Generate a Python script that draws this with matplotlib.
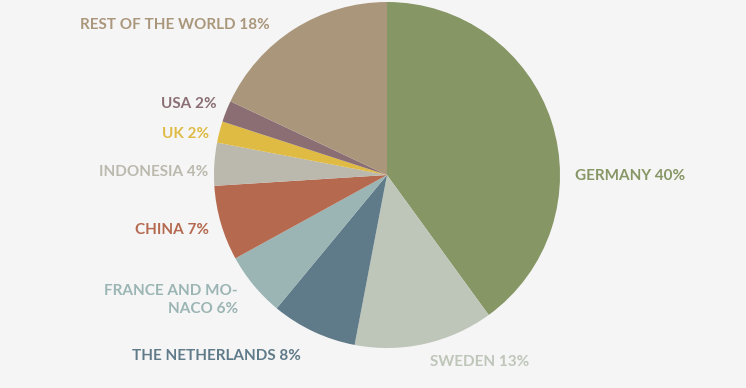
import matplotlib
matplotlib.use("Agg")
import matplotlib.pyplot as plt

# Share by country
countries = ["GERMANY", "SWEDEN", "THE NETHERLANDS", "FRANCE AND MO-\nNACO",
             "CHINA", "INDONESIA", "UK", "USA", "REST OF THE WORLD"]
shares = [40, 13, 8, 6, 7, 4, 2, 2, 18]
colors = ["#869664", "#bec5b9", "#5f7a89", "#9ab5b3", "#b5694f",
          "#bbb9ad", "#dfbb44", "#8a6e74", "#aa967b"]

# label anchors in pixels (x, y from top, alignment)
label_pos = [(575, 174, "left"), (430, 360, "left"), (301, 354, "right"),
             (238, 298, "right"), (209, 228, "right"), (208, 170, "right"),
             (209, 132, "right"), (217, 102, "right"), (270, 23, "right")]

W, H = 746, 388
fig = plt.figure(figsize=(W / 100, H / 100), dpi=100, facecolor="#f5f5f5")
ax = fig.add_axes([0, 0, 1, 1])
ax.set_facecolor("#f5f5f5")

ax.pie(shares, colors=colors, startangle=90, counterclock=False,
       center=(387, H - 175), radius=173, frame=True,
       wedgeprops=dict(linewidth=0))
ax.set_xlim(0, W)
ax.set_ylim(0, H)
ax.set_aspect("equal")
ax.axis("off")

for name, val, col, (x, y, ha) in zip(countries, shares, colors, label_pos):
    ax.text(x, H - y - 2, f"{name} {val}%", color=col, ha=ha, va="center",
            fontsize=11, fontweight="bold", family="Lato",
            multialignment="right", linespacing=1.4)

fig.savefig("out.png", dpi=100, facecolor=fig.get_facecolor())
